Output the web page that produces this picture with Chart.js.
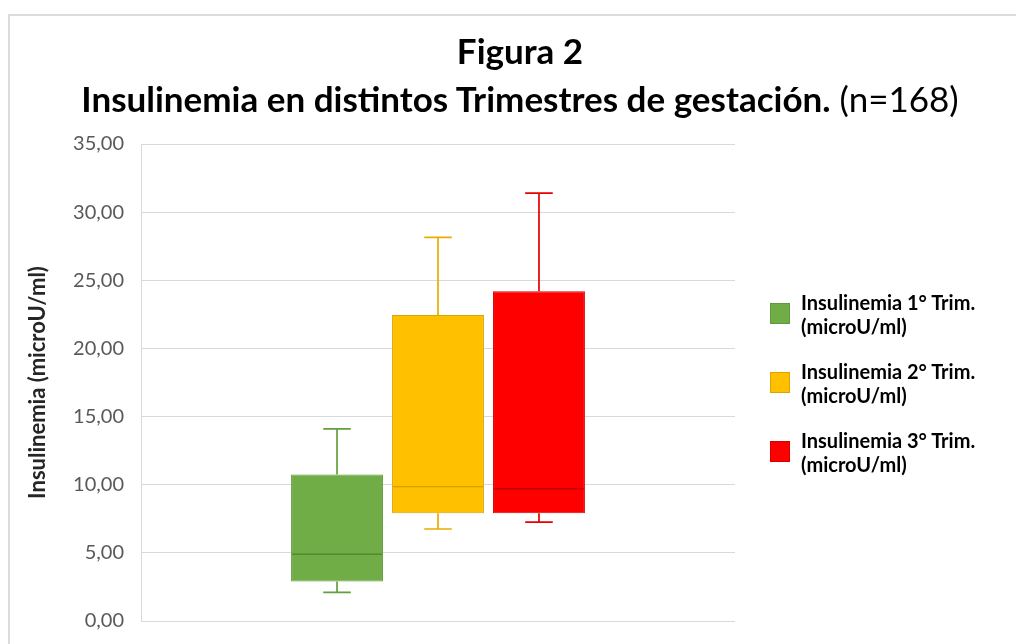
<!DOCTYPE html>
<html>
<head>
<meta charset="utf-8">
<script src="https://cdn.jsdelivr.net/npm/chart.js@4/dist/chart.umd.min.js"></script>
<style>
  html, body { margin: 0; padding: 0; background: #fff; overflow: hidden; }
  #page { position: relative; width: 1016px; height: 644px; font-family: Lato, "Noto Sans", sans-serif; }
  #frame { position: absolute; left: 8px; top: 14px; width: 1100px; height: 700px; border: 2px solid #dcdcdc; box-sizing: border-box; }
  #title { position: absolute; left: 24px; top: 26px; width: 992px; text-align: center; color: #000; font-size: 35px; line-height: 48px; }
  #title b { font-weight: 700; }
  #title span { font-weight: 400; }
  #chart { position: absolute; left: 0; top: 0; }
  #legend { position: absolute; left: 770px; top: 290px; color: #000; font-size: 20px; font-weight: 700; }
  .item { position: relative; height: 69px; }
  .swatch { position: absolute; left: 0; top: 13px; width: 20px; height: 21px; box-sizing: border-box; border: 1px solid; }
  .txt { position: absolute; left: 31px; top: 0; line-height: 24px; white-space: nowrap; }
</style>
</head>
<body>
<div id="page">
  <div id="frame"></div>
  <canvas id="chart" width="1016" height="644"></canvas>
  <div id="title"><b>Figura 2</b><br><b>Insulinemia en distintos Trimestres de gestación.</b> <span>(n=168)</span></div>
  <div id="legend"></div>
</div>
<script>
const categories = ['Insulinemia'];
const seriesNames = ['Insulinemia 1° Trim.', 'Insulinemia 2° Trim.', 'Insulinemia 3° Trim.'];
const seriesUnit = '(microU/ml)';
const minValues = [2.1, 6.75, 7.25];
const q1Values = [2.9, 7.9, 7.9];
const medianValues = [4.9, 9.85, 9.7];
const q3Values = [10.75, 22.45, 24.2];
const maxValues = [14.1, 28.15, 31.4];
const yTicks = [0, 5, 10, 15, 20, 25, 30, 35];

const fillColors = ['#70ad47', '#ffc000', '#ff0000'];
const edgeColors = ['#5e9a3a', '#dca400', '#d40000'];
const whiskerColors = ['#62a03c', '#e8ad00', '#e60000'];
const medianColors = ['#4f7f31', '#c99600', '#b80000'];

// whiskers and median lines, placed with the chart's own scales
const boxExtras = {
  id: 'boxExtras',
  afterDatasetsDraw(chart) {
    const y = chart.scales.y;
    const ctx = chart.ctx;
    chart.data.datasets.forEach((ds, i) => {
      const bar = chart.getDatasetMeta(i).data[0];
      if (!bar) return;
      const half = bar.width / 2;
      const cap = bar.width * 0.15;
      const yMin = y.getPixelForValue(minValues[i]);
      const yQ1 = y.getPixelForValue(q1Values[i]);
      const yQ3 = y.getPixelForValue(q3Values[i]);
      const yMax = y.getPixelForValue(maxValues[i]);
      const yMed = y.getPixelForValue(medianValues[i]);
      ctx.save();
      ctx.strokeStyle = whiskerColors[i];
      ctx.lineWidth = 1.7;
      ctx.beginPath();
      ctx.moveTo(bar.x, yQ3); ctx.lineTo(bar.x, yMax);
      ctx.moveTo(bar.x - cap, yMax); ctx.lineTo(bar.x + cap, yMax);
      ctx.moveTo(bar.x, yQ1); ctx.lineTo(bar.x, yMin);
      ctx.moveTo(bar.x - cap, yMin); ctx.lineTo(bar.x + cap, yMin);
      ctx.stroke();
      ctx.strokeStyle = medianColors[i];
      ctx.lineWidth = 1.2;
      ctx.beginPath();
      ctx.moveTo(bar.x - half + 1, yMed); ctx.lineTo(bar.x + half - 1, yMed);
      ctx.stroke();
      ctx.restore();
    });
  }
};

const datasets = seriesNames.map((name, i) => ({
  label: name + ' ' + seriesUnit,
  data: [[q1Values[i], q3Values[i]]],
  backgroundColor: fillColors[i],
  borderColor: edgeColors[i],
  borderWidth: 1,
  borderSkipped: false,
  categoryPercentage: 0.51,
  barPercentage: 0.91,
}));

new Chart(document.getElementById('chart'), {
  type: 'bar',
  data: { labels: categories, datasets },
  options: {
    responsive: false,
    animation: false,
    layout: { padding: { left: 14, top: 144, right: 281, bottom: 23 } },
    scales: {
      x: { display: false },
      y: {
        min: 0,
        max: 35,
        afterFit: s => { s.width = 127; },
        afterBuildTicks: s => { s.ticks = yTicks.map(v => ({ value: v })); },
        ticks: {
          padding: 2,
          color: '#595959',
          font: { family: 'Lato', size: 20 },
          callback: v => v.toFixed(2).replace('.', ','),
        },
        grid: { color: '#d9d9d9', lineWidth: 1, drawTicks: true, tickLength: 15, tickColor: 'rgba(0,0,0,0)' },
        border: { display: true, color: '#d9d9d9', width: 1 },
        title: {
          display: true,
          text: 'Insulinemia (microU/ml)',
          color: '#262626',
          font: { family: 'Lato', size: 22, weight: 'bold' },
          padding: { top: 11, bottom: 0 },
        },
      },
    },
    plugins: {
      legend: { display: false },
      tooltip: { enabled: false },
    },
  },
  plugins: [boxExtras],
});

// legend built from the same series arrays
const legend = document.getElementById('legend');
seriesNames.forEach((name, i) => {
  const item = document.createElement('div');
  item.className = 'item';
  item.innerHTML = `<div class="swatch" style="background:${fillColors[i]};border-color:${edgeColors[i]}"></div>` +
    `<div class="txt">${name}<br>${seriesUnit}</div>`;
  legend.appendChild(item);
});
</script>
</body>
</html>
